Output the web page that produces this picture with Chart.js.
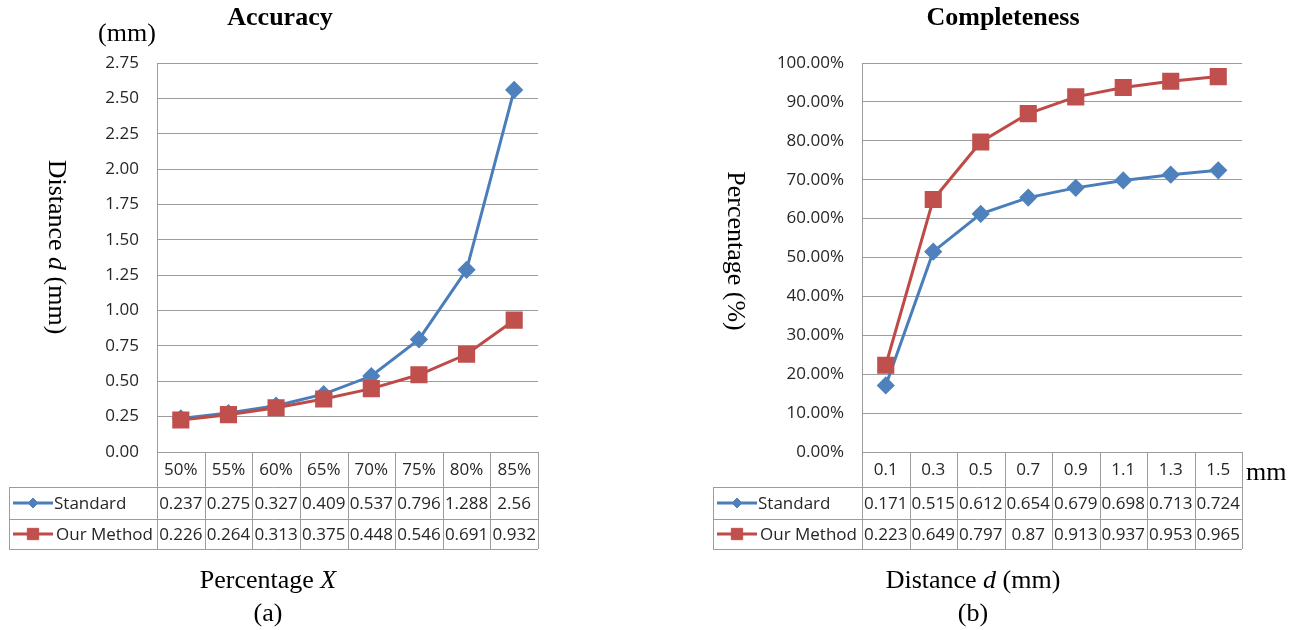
<!DOCTYPE html>
<html>
<head>
<meta charset="utf-8">
<script src="https://cdn.jsdelivr.net/npm/chart.js@4.4.1/dist/chart.umd.min.js"></script>
<style>
  html, body { margin: 0; padding: 0; background: #fff; }
  #wrap { position: relative; width: 1301px; height: 630px; overflow: hidden; }
  canvas { position: absolute; top: 0; }
  #graficoA { left: 0; }
  #graficoB { left: 650px; }
</style>
</head>
<body>
<div id="wrap">
  <canvas id="graficoA" width="650" height="630"></canvas>
  <canvas id="graficoB" width="651" height="630"></canvas>
</div>
<script>
// (a) Accuracy
const percentLabels = ['50%', '55%', '60%', '65%', '70%', '75%', '80%', '85%'];
const accuracyStandard = [0.237, 0.275, 0.327, 0.409, 0.537, 0.796, 1.288, 2.56];
const accuracyOurs = [0.226, 0.264, 0.313, 0.375, 0.448, 0.546, 0.691, 0.932];

// (b) Completeness
const distanceLabels = ['0.1', '0.3', '0.5', '0.7', '0.9', '1.1', '1.3', '1.5'];
const completeStandard = [0.171, 0.515, 0.612, 0.654, 0.679, 0.698, 0.713, 0.724];
const completeOurs = [0.223, 0.649, 0.797, 0.87, 0.913, 0.937, 0.953, 0.965];

const seriesNames = ['Standard', 'Our Method'];

const BLUE = '#4F81BD';
const BLUE_LINE = '#4A7EBB';
const RED = '#C0504D';
const RED_LINE = '#BE4B48';
const GRID = '#9c9c9c';
const SANS = '"Open Sans", sans-serif';
const SERIF = '"Liberation Serif", "Times New Roman", serif';
const FONT_PX = 17;

// draw a text made of pieces (some italic) centred on cx
function drawPieces(ctx, pieces, cx, cy, size) {
    let total = 0;
    const widths = pieces.map(p => {
        ctx.font = p[1] + ' ' + size + 'px ' + SERIF;
        const w = ctx.measureText(p[0]).width;
        total += w;
        return w;
    });
    let x = cx - total / 2;
    pieces.forEach((p, i) => {
        ctx.font = p[1] + ' ' + size + 'px ' + SERIF;
        ctx.fillText(p[0], x, cy);
        x += widths[i];
    });
}

// data table under the plot + titles
const tablePlugin = {
    id: 'tabela',
    afterDraw(chart, args, opts) {
        const ctx = chart.ctx;
        const xs = chart.scales.x;
        const ys = chart.scales.y;
        const n = chart.data.labels.length;
        const colW = (xs.right - xs.left) / n;
        const top = Math.round(ys.bottom);
        const rows = [top, top + 35, top + 67, top + 97];
        const legLeft = Math.round(xs.left - opts.legendWidth);
        const px = v => Math.round(v) + 0.5;

        ctx.save();
        ctx.strokeStyle = GRID;
        ctx.lineWidth = 1;
        ctx.beginPath();
        // horizontal lines
        ctx.moveTo(xs.left, px(rows[0])); ctx.lineTo(xs.right, px(rows[0]));
        for (let r = 1; r < 4; r++) {
            ctx.moveTo(legLeft, px(rows[r])); ctx.lineTo(xs.right, px(rows[r]));
        }
        // vertical lines
        for (let i = 0; i <= n; i++) {
            const x = px(xs.left + i * colW);
            ctx.moveTo(x, rows[0]); ctx.lineTo(x, rows[3]);
        }
        ctx.moveTo(px(legLeft), rows[1]); ctx.lineTo(px(legLeft), rows[3]);
        ctx.stroke();

        // cell texts
        ctx.fillStyle = '#262626';
        ctx.font = FONT_PX + 'px ' + SANS;
        ctx.textAlign = 'center';
        ctx.textBaseline = 'middle';
        const mids = [(rows[0] + rows[1]) / 2, (rows[1] + rows[2]) / 2, (rows[2] + rows[3]) / 2];
        chart.data.labels.forEach((lab, i) => {
            const cx = xs.getPixelForValue(i);
            ctx.fillText(lab, cx, mids[0] + 1);
            chart.data.datasets.forEach((ds, d) => {
                ctx.fillText(String(ds.data[i]), cx, mids[d + 1] + 1);
            });
        });

        // legend keys in the table
        chart.data.datasets.forEach((ds, d) => {
            const y = mids[d + 1];
            ctx.strokeStyle = ds.borderColor;
            ctx.lineWidth = 3;
            ctx.beginPath();
            ctx.moveTo(legLeft + 4, y); ctx.lineTo(legLeft + 44, y);
            ctx.stroke();
            ctx.fillStyle = ds.pointBackgroundColor;
            ctx.strokeStyle = ds.pointBorderColor;
            ctx.lineWidth = 1;
            Chart.helpers.drawPoint(ctx, {
                pointStyle: ds.pointStyle,
                radius: d === 0 ? 5 : 8,
                rotation: 0,
                borderWidth: 1
            }, legLeft + 24, y);
            ctx.fillStyle = '#262626';
            ctx.textAlign = 'left';
            ctx.fillText(ds.label, legLeft + 45 + (d === 1 ? 2 : 0), y + 1);
        });

        // axis line through the table
        ctx.strokeStyle = GRID;
        ctx.lineWidth = 1;
        ctx.beginPath();
        ctx.moveTo(px(xs.left), rows[0]); ctx.lineTo(px(xs.left), rows[3]);
        ctx.stroke();

        // titles
        ctx.fillStyle = '#000';
        ctx.textAlign = 'left';
        ctx.textBaseline = 'alphabetic';
        drawPieces(ctx, [[opts.title, 'bold']], opts.titleX, 25, 26);
        if (opts.unit) drawPieces(ctx, [[opts.unit, '']], 127, 41, 26);
        drawPieces(ctx, opts.xTitle, opts.xTitleX, 588, 26);
        drawPieces(ctx, [[opts.sub, '']], opts.xTitleX, 621, 26);
        if (opts.mmX) {
            ctx.font = '26px ' + SERIF;
            ctx.fillText('mm', opts.mmX, 480);
        }
        ctx.save();
        ctx.translate(opts.yTitleX, opts.yTitleY);
        ctx.rotate(Math.PI / 2);
        ctx.textBaseline = 'middle';
        drawPieces(ctx, opts.yTitle, 0, 0, 26);
        ctx.restore();
        ctx.restore();
    }
};

function criarGrafico(id, cfg) {
    const ctx = document.getElementById(id).getContext('2d');
    return new Chart(ctx, {
        type: 'line',
        data: {
            labels: cfg.labels,
            datasets: [{
                label: seriesNames[0],
                data: cfg.standard,
                borderColor: BLUE_LINE,
                backgroundColor: BLUE,
                pointBackgroundColor: BLUE,
                pointBorderColor: BLUE,
                pointStyle: 'rectRot',
                pointRadius: 7,
                borderWidth: 3,
                tension: 0,
                order: 2
            }, {
                label: seriesNames[1],
                data: cfg.ours,
                borderColor: RED_LINE,
                backgroundColor: RED,
                pointBackgroundColor: RED,
                pointBorderColor: RED,
                pointStyle: 'rect',
                pointRadius: 10,
                borderWidth: 3,
                tension: 0,
                order: 1
            }]
        },
        options: {
            responsive: false,
            animation: false,
            layout: { padding: { left: 0, top: 63, right: cfg.padRight, bottom: 178 } },
            scales: {
                x: { display: false, offset: true },
                y: {
                    min: 0,
                    max: cfg.max,
                    ticks: {
                        stepSize: cfg.step,
                        padding: 18,
                        color: '#262626',
                        font: { family: SANS, size: FONT_PX },
                        callback: cfg.tickFmt
                    },
                    grid: { color: GRID, drawTicks: false },
                    border: { color: GRID },
                    afterFit(scale) { scale.width = cfg.axisWidth; }
                }
            },
            plugins: {
                legend: { display: false },
                tooltip: { enabled: false },
                tabela: cfg.table
            }
        },
        plugins: [tablePlugin]
    });
}

criarGrafico('graficoA', {
    labels: percentLabels,
    standard: accuracyStandard,
    ours: accuracyOurs,
    max: 2.75,
    step: 0.25,
    tickFmt: v => v.toFixed(2),
    axisWidth: 157,
    padRight: 112,
    table: {
        legendWidth: 148,
        title: 'Accuracy', titleX: 280,
        unit: '(mm)',
        xTitle: [['Percentage ', ''], ['X', 'italic']], xTitleX: 268,
        sub: '(a)',
        yTitle: [['Distance ', ''], ['d', 'italic'], [' (mm)', '']], yTitleX: 56, yTitleY: 247
    }
});

criarGrafico('graficoB', {
    labels: distanceLabels,
    standard: completeStandard,
    ours: completeOurs,
    max: 1,
    step: 0.1,
    tickFmt: v => (v * 100).toFixed(2) + '%',
    axisWidth: 212,
    padRight: 59,
    table: {
        legendWidth: 149,
        title: 'Completeness', titleX: 353,
        xTitle: [['Distance ', ''], ['d', 'italic'], [' (mm)', '']], xTitleX: 323,
        sub: '(b)',
        mmX: 596,
        yTitle: [['Percentage (%)', '']], yTitleX: 85, yTitleY: 251
    }
});
</script>
</body>
</html>
